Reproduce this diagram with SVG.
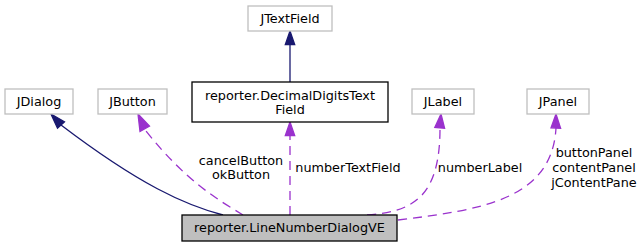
<svg xmlns="http://www.w3.org/2000/svg" width="643" height="247" viewBox="0 0 643 247">
  <defs>
    <style>
      text { font-family: "DejaVu Sans", sans-serif; font-size: 12.8px; fill: #000; }
      .lbl { text-anchor: middle; }
      .ext { fill: #fff; stroke: #bfbfbf; stroke-width: 1.3; }
      .doc { fill: #fff; stroke: #000; stroke-width: 1.3; }
      .main { fill: #bfbfbf; stroke: #000; stroke-width: 1.3; }
      .inh { fill: none; stroke: #191970; stroke-width: 1.3; }
      .inh-head { fill: #191970; stroke: #191970; stroke-width: 1.3; }
      .use { fill: none; stroke: #9a32cd; stroke-width: 1.3; stroke-dasharray: 9,6; }
      .use-head { fill: #9a32cd; stroke: #9a32cd; stroke-width: 1.3; }
    </style>
  </defs>
  <rect width="643" height="247" fill="#fff"/>

  <!-- connectors -->
  <g id="edges">
    <!-- DecimalDigitsTextField extends JTextField -->
    <path class="inh" d="M290,82 L290,44"/>
    <polygon class="inh-head" points="290,31 285.3,44.5 294.7,44.5"/>

    <!-- LineNumberDialogVE extends JDialog -->
    <path class="inh" d="M223,215 C185,205 140,185 61,125"/>
    <polygon class="inh-head" points="51,114 64.5,121.8 57.5,128.2"/>

    <!-- cancelButton / okButton -->
    <path class="use" d="M243,215 C215,198 185,180 146,131"/>
    <polygon class="use-head" points="138,114 149.5,126 140,131.5"/>

    <!-- numberTextField -->
    <path class="use" d="M290,215 L290,135"/>
    <polygon class="use-head" points="290,122 285.3,135.5 294.7,135.5"/>

    <!-- numberLabel -->
    <path class="use" d="M367,215 C415,212 440,195 440,128"/>
    <polygon class="use-head" points="441,114 434.8,127.5 444.6,128.3"/>

    <!-- buttonPanel / contentPanel / jContentPane -->
    <path class="use" d="M398,220 C480,210 552,200 556,128"/>
    <polygon class="use-head" points="556,114 551,127.8 560.6,128.3"/>
  </g>

  <!-- connector labels -->
  <g id="edge-labels">
    <text class="lbl" x="241" y="165">cancelButton</text>
    <text class="lbl" x="241" y="179">okButton</text>
    <text class="lbl" x="348" y="172">numberTextField</text>
    <text class="lbl" x="480" y="172">numberLabel</text>
    <text class="lbl" x="594" y="157">buttonPanel</text>
    <text class="lbl" x="594" y="172">contentPanel</text>
    <text class="lbl" x="594" y="187">jContentPane</text>
  </g>

  <!-- nodes -->
  <g id="JTextField">
    <rect class="ext" x="248" y="6" width="84" height="25"/>
    <text class="lbl" x="290" y="23">JTextField</text>
  </g>
  <g id="JDialog">
    <rect class="ext" x="5" y="89" width="68" height="25"/>
    <text class="lbl" x="39" y="106">JDialog</text>
  </g>
  <g id="JButton">
    <rect class="ext" x="98" y="89" width="69" height="25"/>
    <text class="lbl" x="132.5" y="106">JButton</text>
  </g>
  <g id="DecimalDigitsTextField">
    <rect class="doc" x="192" y="82" width="196" height="40"/>
    <text class="lbl" x="290" y="100">reporter.DecimalDigitsText</text>
    <text class="lbl" x="290" y="114">Field</text>
  </g>
  <g id="JLabel">
    <rect class="ext" x="412" y="89" width="62" height="25"/>
    <text class="lbl" x="443" y="106">JLabel</text>
  </g>
  <g id="JPanel">
    <rect class="ext" x="527" y="89" width="62" height="25"/>
    <text class="lbl" x="558" y="106">JPanel</text>
  </g>
  <g id="LineNumberDialogVE">
    <rect class="main" x="182" y="215" width="215" height="26"/>
    <text class="lbl" x="289.5" y="232">reporter.LineNumberDialogVE</text>
  </g>
</svg>
